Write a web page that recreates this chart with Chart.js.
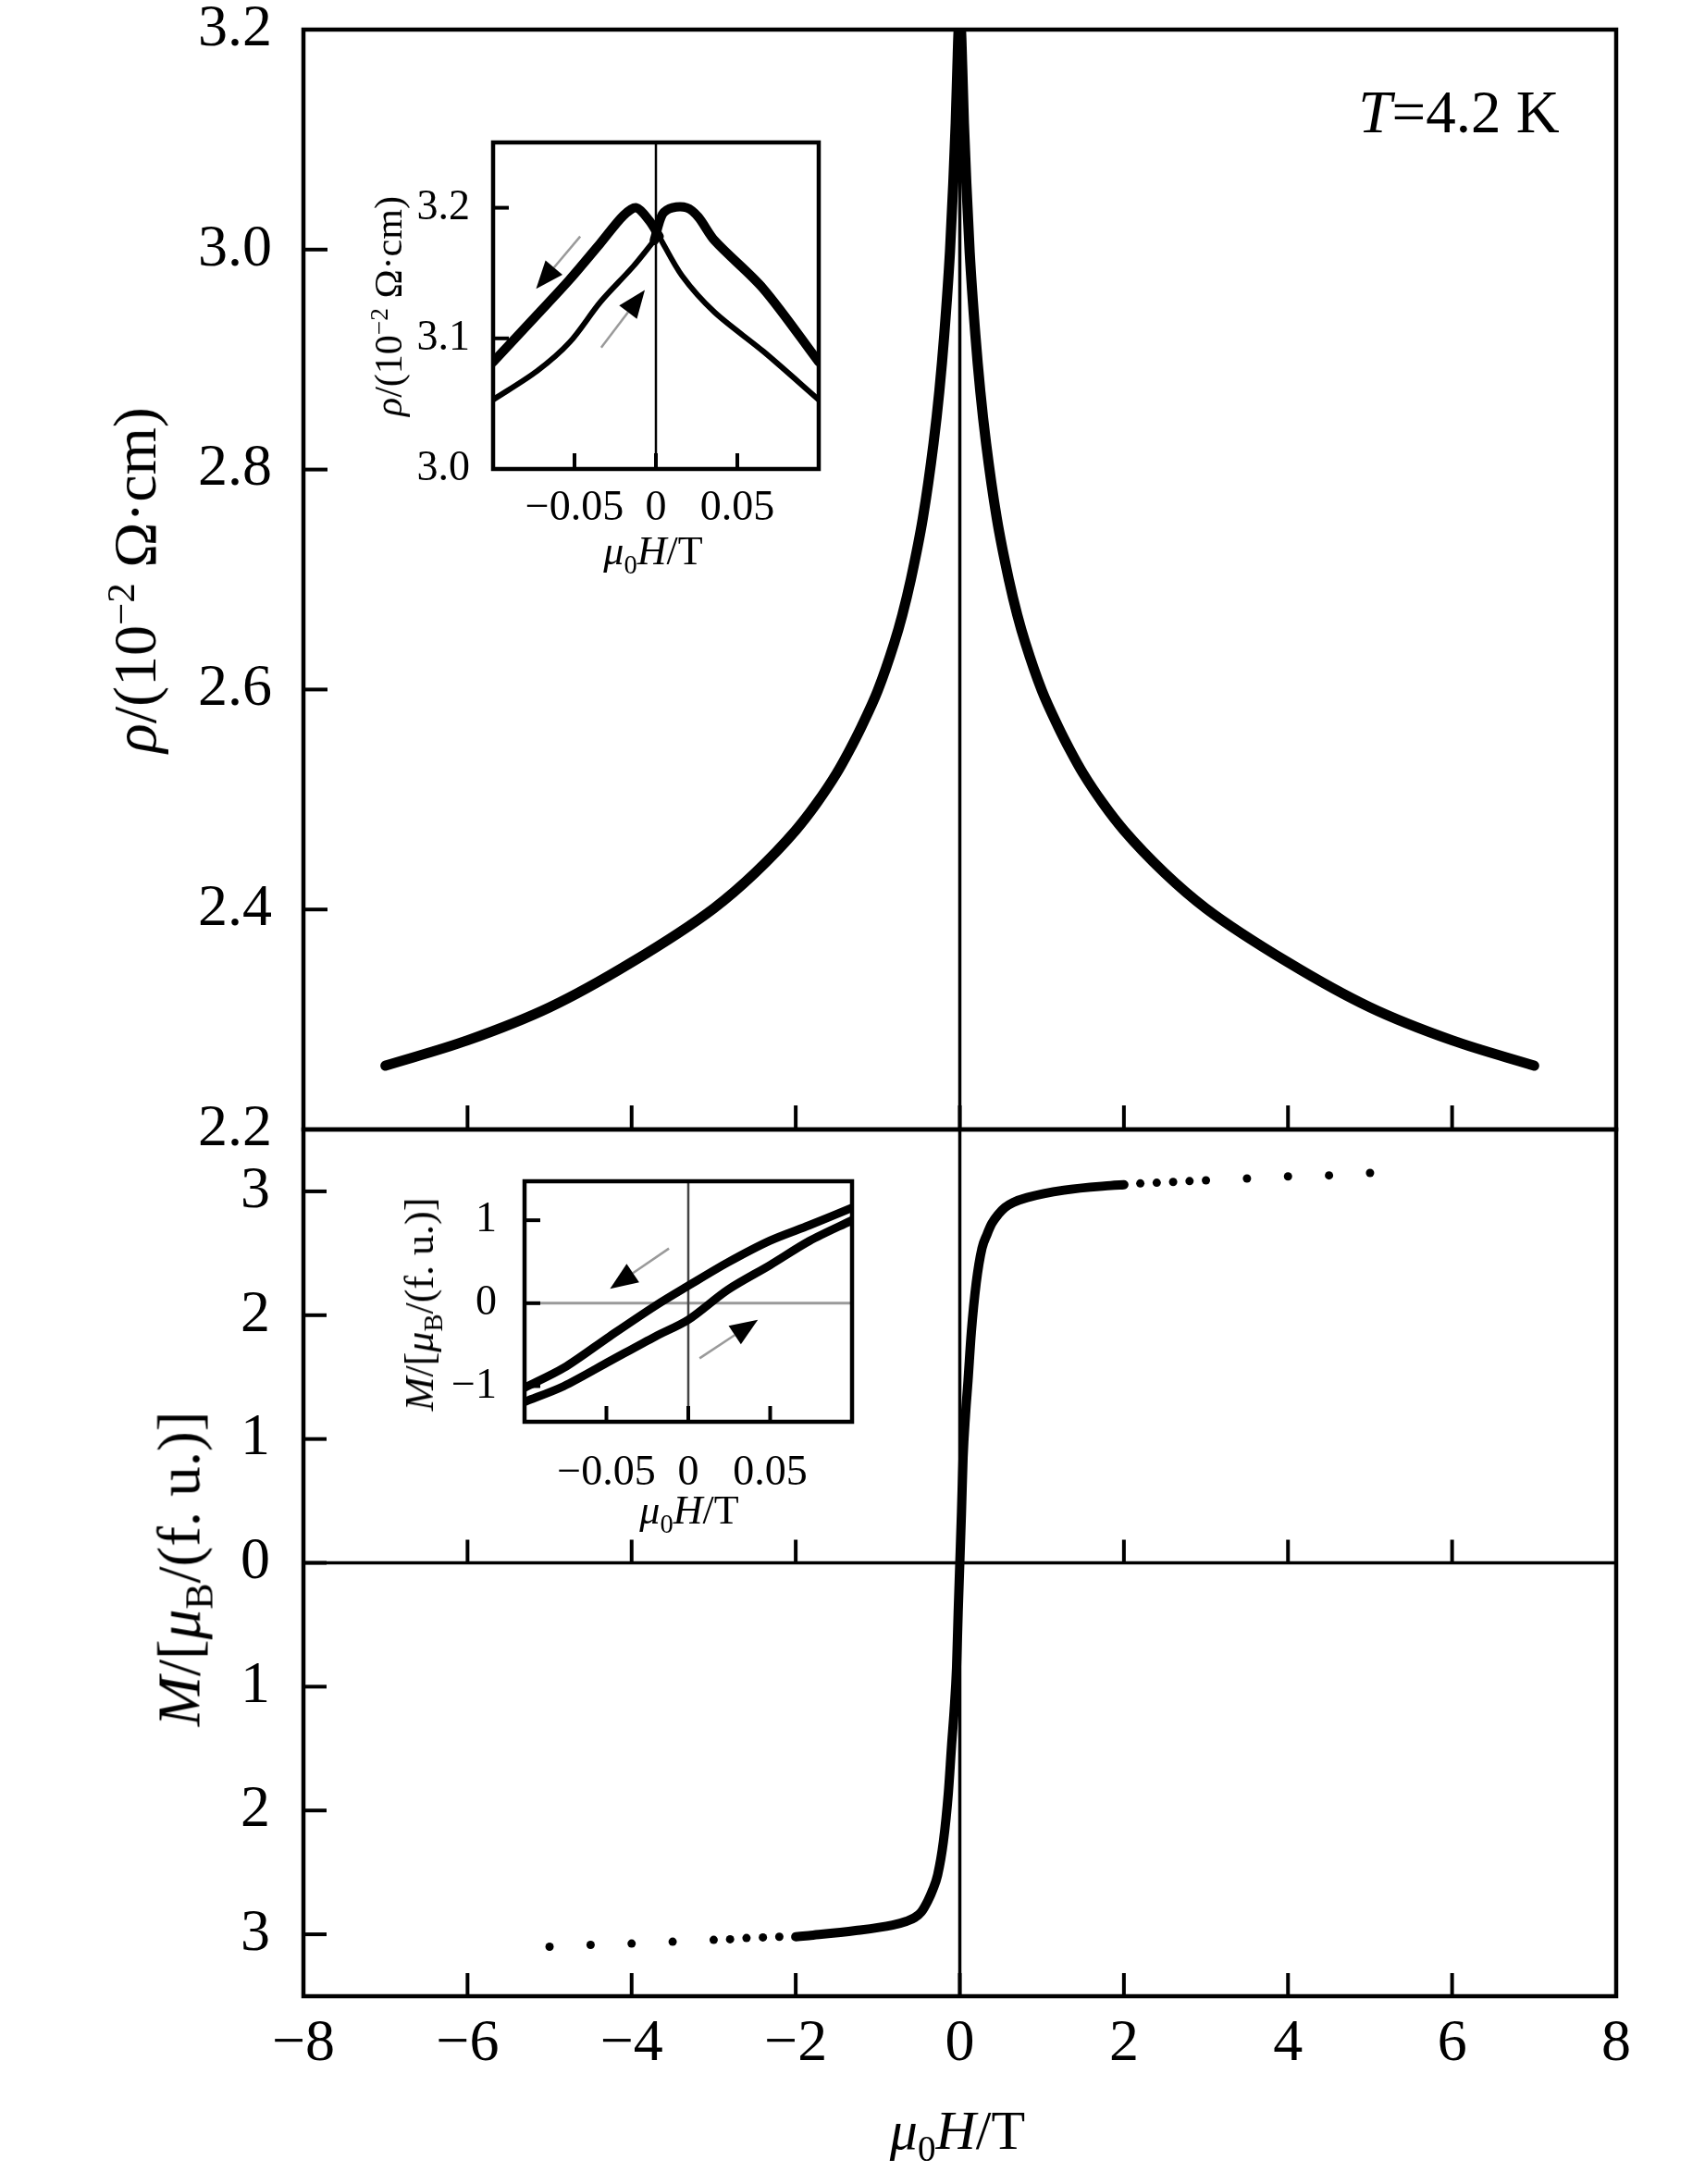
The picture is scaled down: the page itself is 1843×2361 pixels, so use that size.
<!DOCTYPE html>
<html>
<head>
<meta charset="utf-8">
<script src="https://cdn.jsdelivr.net/npm/chart.js@4.4.1/dist/chart.umd.min.js"></script>
<style>
  html, body { margin: 0; padding: 0; background: #fff; }
  body { width: 1843px; height: 2361px; position: relative; overflow: hidden;
         font-family: 'Liberation Serif', 'Times New Roman', serif; color: #000; }
  canvas { position: absolute; }
  .t { position: absolute; white-space: nowrap; line-height: 1; transform: translate(-50%, -50%); }
  .v { transform: translate(-50%, -50%) rotate(-90deg); }
  sub, sup { font-size: 65%; line-height: 0; }
</style>
</head>
<body>
<canvas id="cRho" width="1843" height="1341" style="left:0;top:-40px"></canvas>
<canvas id="cM" width="1843" height="1221" style="left:0;top:1140px"></canvas>
<canvas id="cRhoInset" width="540" height="480" style="left:380px;top:90px"></canvas>
<canvas id="cMInset" width="560" height="440" style="left:400px;top:1220px"></canvas>

<div class="t v" style="left:146px;top:627px;font-size:66px"><i>ρ</i>/(10<sup>−2</sup> Ω·cm)</div>
<div class="t v" style="left:194px;top:1696px;font-size:65px"><i>M</i>/[<i>μ</i><sub>B</sub>/(f. u.)]</div>
<div class="t" style="left:1035px;top:2303px;font-size:60px"><i>μ</i><sub>0</sub><i>H</i>/T</div>
<div class="t" style="left:1577px;top:121px;font-size:65px"><i>T</i>=4.2 K</div>
<div class="t v" style="left:420px;top:331px;font-size:42px"><i>ρ</i>/(10<sup>−2</sup> Ω·cm)</div>
<div class="t" style="left:706px;top:596px;font-size:44px"><i>μ</i><sub>0</sub><i>H</i>/T</div>
<div class="t v" style="left:454px;top:1410px;font-size:44px"><i>M</i>/[<i>μ</i><sub>B</sub>/(f. u.)]</div>
<div class="t" style="left:745px;top:1633px;font-size:44px"><i>μ</i><sub>0</sub><i>H</i>/T</div>

<script>
// ---- data ----
// main panel: resistivity (10^-2 Ohm cm) vs field (T)
const rhoField = [-7, -6, -5, -4, -3, -2.5, -2, -1.75, -1.5, -1.35, -1.2, -1, -0.8, -0.7, -0.6, -0.45, -0.32,
                  -0.25, -0.19, -0.12, -0.08, -0.05, -0.03, -0.012, 0, 0.012, 0.03, 0.05, 0.08, 0.12, 0.19,
                  0.25, 0.32, 0.45, 0.6, 0.7, 0.8, 1, 1.2, 1.35, 1.5, 1.75, 2, 2.5, 3, 4, 5, 6, 7];
const rhoValue = [2.258, 2.281, 2.311, 2.352, 2.401, 2.433, 2.472, 2.496, 2.524, 2.544, 2.566, 2.599, 2.642,
                  2.668, 2.699, 2.756, 2.824, 2.871, 2.922, 2.998, 3.06, 3.115, 3.165, 3.2, 3.19, 3.2, 3.165,
                  3.115, 3.06, 2.998, 2.922, 2.871, 2.824, 2.756, 2.699, 2.668, 2.642, 2.599, 2.566, 2.544,
                  2.524, 2.496, 2.472, 2.433, 2.401, 2.352, 2.311, 2.281, 2.258];

// main panel: magnetisation (muB per f.u.) vs field (T)
const mField = [-2, -1.84, -1.27, -0.82, -0.65, -0.55, -0.47, -0.39, -0.33, -0.27, -0.2, -0.14, -0.1, -0.07,
                -0.04, -0.02, 0, 0.02, 0.04, 0.07, 0.1, 0.14, 0.2, 0.27, 0.33, 0.39, 0.47, 0.55, 0.65, 0.82,
                1.27, 1.84, 2];
const mValue = [-3.02, -3.01, -2.97, -2.925, -2.895, -2.865, -2.82, -2.73, -2.64, -2.52, -2.25, -1.86, -1.47,
                -1.2, -0.85, -0.4, 0, 0.4, 0.85, 1.2, 1.47, 1.86, 2.26, 2.54, 2.65, 2.74, 2.815, 2.87, 2.91,
                2.95, 3.01, 3.047, 3.054];
const mTailField = [-5, -4.5, -4, -3.5, -3, -2.8, -2.6, -2.4, -2.2, 2.2, 2.4, 2.6, 2.8, 3, 3.5, 4, 4.5, 5];
const mTailValue = [-3.10, -3.085, -3.075, -3.06, -3.045, -3.04, -3.03, -3.025, -3.02,
                    3.064, 3.07, 3.076, 3.083, 3.089, 3.104, 3.121, 3.129, 3.149];

// resistivity inset, field sweeping down (+ to -) and up (- to +)
const rhoInDownRightH = [0.1, 0.066, 0.036, 0.016, 0.002];
const rhoInDownRightV = [3.053, 3.090, 3.120, 3.148, 3.178];
const rhoInDownLeftH = [0.002, -0.004, -0.012, -0.02, -0.034, -0.053, -0.073, -0.1];
const rhoInDownLeftV = [3.178, 3.19, 3.2, 3.194, 3.173, 3.145, 3.118, 3.082];
const rhoInUpLeftH = [-0.1, -0.073, -0.053, -0.034, -0.014, -0.001];
const rhoInUpLeftV = [3.053, 3.075, 3.097, 3.128, 3.155, 3.175];
const rhoInUpRightH = [-0.001, 0.004, 0.01, 0.019, 0.026, 0.036, 0.066, 0.1];
const rhoInUpRightV = [3.175, 3.195, 3.2, 3.2, 3.193, 3.175, 3.138, 3.082];

// magnetisation inset loop
const mInDownH = [0.1, 0.074, 0.05, 0.024, 0, -0.02, -0.048, -0.076, -0.1];
const mInDownV = [1.15, 0.94, 0.755, 0.49, 0.21, -0.03, -0.40, -0.78, -1.02];
const mInUpH = [-0.1, -0.076, -0.048, -0.02, 0, 0.024, 0.05, 0.074, 0.1];
const mInUpV = [-1.19, -1.0, -0.70, -0.40, -0.20, 0.16, 0.46, 0.75, 1.0];

// tick values
const fieldTicks = [-8, -6, -4, -2, 0, 2, 4, 6, 8];
const rhoTicks = [2.2, 2.4, 2.6, 2.8, 3.0, 3.2];
const mTicks = [-3, -2, -1, 0, 1, 2, 3];
const insetFieldTicks = [-0.05, 0, 0.05];
const insetRhoTicks = [3.0, 3.1, 3.2];
const insetMTicks = [-1, 0, 1];

// sweep-direction arrows in the insets (data units)
const rhoInsetArrows = [{ from: [-0.0465, 3.178], to: [-0.0736, 3.138] },
                        { from: [-0.0336, 3.093], to: [-0.0068, 3.137] }];
const mInsetArrows = [{ from: [-0.0118, 0.66], to: [-0.0478, 0.174] },
                      { from: [0.0069, -0.665], to: [0.0425, -0.199] }];

// ---- drawing ----
Chart.defaults.font.family = "'Liberation Serif', 'Times New Roman', serif";
Chart.defaults.color = '#000';

function pts(xs, ys) { return xs.map((x, i) => ({ x: x, y: ys[i] })); }
function seg(ctx, x0, y0, x1, y1) { ctx.beginPath(); ctx.moveTo(x0, y0); ctx.lineTo(x1, y1); ctx.stroke(); }
function signed(v) {
  if (Math.abs(v) < 1e-9) return '0';
  const s = String(Math.round(Math.abs(v) * 1000) / 1000);
  return v < 0 ? '\u2212' + s : s;
}
function line(data, width, smooth) {
  const ds = { data: data, showLine: true, borderColor: '#000', borderWidth: width, pointRadius: 0,
               borderCapStyle: 'round', borderJoinStyle: 'round', clip: 0 };
  if (smooth === 'mono') ds.cubicInterpolationMode = 'monotone';
  else if (smooth) ds.tension = smooth;
  return ds;
}

// frame, inward ticks and zero lines
const panelFrame = {
  id: 'panelFrame',
  beforeDraw(chart, args, o) {
    if (!o.fill) return;
    const a = chart.chartArea, ctx = chart.ctx;
    ctx.save(); ctx.fillStyle = o.fill; ctx.fillRect(a.left, a.top, a.width, a.height); ctx.restore();
  },
  beforeDatasetsDraw(chart, args, o) {
    const { ctx, chartArea: a, scales: { x, y } } = chart;
    ctx.save();
    if (o.zeroY) {
      const py = y.getPixelForValue(0);
      ctx.strokeStyle = o.zeroY.color; ctx.lineWidth = o.zeroY.width;
      seg(ctx, a.left, py, a.right, py);
    }
    if (o.zeroX) {
      const px = x.getPixelForValue(0);
      ctx.strokeStyle = o.zeroX.color; ctx.lineWidth = o.zeroX.width;
      seg(ctx, px, a.top, px, a.bottom);
    }
    ctx.restore();
  },
  afterDatasetsDraw(chart, args, o) {
    const { ctx, chartArea: a, scales: { x, y } } = chart;
    ctx.save();
    ctx.strokeStyle = '#000'; ctx.lineWidth = o.tickWidth; ctx.lineCap = 'butt';
    (o.yTicks || []).forEach(v => {
      const py = y.getPixelForValue(v);
      if (py > a.top + 3 && py < a.bottom - 3) seg(ctx, a.left, py, a.left + o.tickLen, py);
    });
    const rows = [a.bottom];
    if (o.xTicksOnZero) rows.push(y.getPixelForValue(0));
    (o.xTicks || []).forEach(v => {
      const px = x.getPixelForValue(v);
      if (px > a.left + 3 && px < a.right - 3) rows.forEach(r => seg(ctx, px, r, px, r - o.tickLen));
    });
    ctx.lineWidth = o.frameWidth;
    ctx.strokeRect(a.left, a.top, a.width, a.height);
    ctx.restore();
  }
};

const sweepArrows = {
  id: 'sweepArrows',
  afterDatasetsDraw(chart, args, o) {
    const { ctx, scales: { x, y } } = chart;
    (o.list || []).forEach(ar => {
      const x0 = x.getPixelForValue(ar.from[0]), y0 = y.getPixelForValue(ar.from[1]);
      const x1 = x.getPixelForValue(ar.to[0]), y1 = y.getPixelForValue(ar.to[1]);
      const ang = Math.atan2(y1 - y0, x1 - x0);
      const bx = x1 - o.head * Math.cos(ang), by = y1 - o.head * Math.sin(ang);
      ctx.save();
      ctx.strokeStyle = '#9a9a9a'; ctx.lineWidth = 2.5;
      seg(ctx, x0, y0, bx, by);
      ctx.fillStyle = '#000';
      ctx.beginPath();
      ctx.moveTo(x1, y1);
      ctx.lineTo(bx + o.half * Math.sin(ang), by - o.half * Math.cos(ang));
      ctx.lineTo(bx - o.half * Math.sin(ang), by + o.half * Math.cos(ang));
      ctx.closePath(); ctx.fill();
      ctx.restore();
    });
  }
};

function setTicks(values) { return s => { s.ticks = values.map(v => ({ value: v })); }; }

const base = { responsive: false, animation: false, devicePixelRatio: 1 };
const noGrid = { display: false };
const noBorder = { display: false };

// upper main panel: rho(H)
new Chart(document.getElementById('cRho'), {
  type: 'scatter',
  data: { datasets: [line(pts(rhoField, rhoValue), 11, 'mono')] },
  options: Object.assign({}, base, {
    layout: { padding: { left: 0, top: 72, right: 96, bottom: 80 } },
    plugins: {
      legend: { display: false }, tooltip: { enabled: false },
      panelFrame: { xTicks: fieldTicks, yTicks: rhoTicks, tickLen: 26, tickWidth: 4, frameWidth: 4.5,
                    zeroX: { color: '#000', width: 3.5 } }
    },
    scales: {
      x: { type: 'linear', min: -8, max: 8, display: false },
      y: { type: 'linear', min: 2.2, max: 3.2, grid: noGrid, border: noBorder,
           afterFit(s) { s.width = 328; }, afterBuildTicks: setTicks(rhoTicks),
           ticks: { font: { size: 64 }, padding: 26, callback: v => v.toFixed(1) } }
    }
  }),
  plugins: [panelFrame]
});

// lower main panel: M(H)
new Chart(document.getElementById('cM'), {
  type: 'scatter',
  data: { datasets: [
    line(pts(mField, mValue), 10, 'mono'),
    { data: pts(mTailField, mTailValue), pointRadius: 4.5, pointStyle: 'circle', backgroundColor: '#000',
      borderWidth: 0, showLine: false, clip: 0 }
  ] },
  options: Object.assign({}, base, {
    layout: { padding: { left: 0, top: 81, right: 96, bottom: 0 } },
    plugins: {
      legend: { display: false }, tooltip: { enabled: false },
      panelFrame: { xTicks: fieldTicks, yTicks: mTicks, xTicksOnZero: true, tickLen: 25, tickWidth: 4,
                    frameWidth: 4.5, zeroX: { color: '#000', width: 3.5 }, zeroY: { color: '#000', width: 3.5 } }
    },
    scales: {
      x: { type: 'linear', min: -8, max: 8, grid: noGrid, border: noBorder,
           afterFit(s) { s.height = 203; }, afterBuildTicks: setTicks(fieldTicks),
           ticks: { font: { size: 64 }, padding: 6, maxRotation: 0, callback: signed } },
      y: { type: 'linear', min: -3.5, max: 3.5, grid: noGrid, border: noBorder,
           afterFit(s) { s.width = 328; }, afterBuildTicks: setTicks(mTicks),
           ticks: { font: { size: 64 }, padding: 28, callback: v => String(Math.abs(v)) } }
    }
  }),
  plugins: [panelFrame]
});

// inset: rho near zero field
new Chart(document.getElementById('cRhoInset'), {
  type: 'scatter',
  data: { datasets: [
    line(pts(rhoInDownRightH, rhoInDownRightV), 6, 0.3),
    line(pts(rhoInDownLeftH, rhoInDownLeftV), 10, 0.3),
    line(pts(rhoInUpLeftH, rhoInUpLeftV), 6, 0.3),
    line(pts(rhoInUpRightH, rhoInUpRightV), 10, 0.3)
  ] },
  options: Object.assign({}, base, {
    layout: { padding: { left: 0, top: 64, right: 35, bottom: 0 } },
    plugins: {
      legend: { display: false }, tooltip: { enabled: false },
      panelFrame: { fill: '#fff', xTicks: insetFieldTicks, yTicks: insetRhoTicks, tickLen: 17, tickWidth: 4,
                    frameWidth: 4.5, zeroX: { color: '#000', width: 2.5 } },
      sweepArrows: { list: rhoInsetArrows, head: 30, half: 12 }
    },
    scales: {
      x: { type: 'linear', min: -0.1, max: 0.1, grid: noGrid, border: noBorder,
           afterFit(s) { s.height = 63; }, afterBuildTicks: setTicks(insetFieldTicks),
           ticks: { font: { size: 46 }, padding: 7, maxRotation: 0, callback: signed } },
      y: { type: 'linear', min: 3.0, max: 3.25, grid: noGrid, border: noBorder,
           afterFit(s) { s.width = 153; }, afterBuildTicks: setTicks(insetRhoTicks),
           ticks: { font: { size: 46 }, padding: 17, callback: v => v.toFixed(1) } }
    }
  }),
  plugins: [panelFrame, sweepArrows]
});

// inset: M hysteresis loop near zero field
new Chart(document.getElementById('cMInset'), {
  type: 'scatter',
  data: { datasets: [
    line(pts(mInDownH, mInDownV), 9, 0.3),
    line(pts(mInUpH, mInUpV), 9, 0.3)
  ] },
  options: Object.assign({}, base, {
    layout: { padding: { left: 0, top: 57, right: 39, bottom: 0 } },
    plugins: {
      legend: { display: false }, tooltip: { enabled: false },
      panelFrame: { fill: '#fff', xTicks: insetFieldTicks, yTicks: insetMTicks, tickLen: 17, tickWidth: 4,
                    frameWidth: 4.5, zeroX: { color: '#444', width: 2.5 }, zeroY: { color: '#9a9a9a', width: 3 } },
      sweepArrows: { list: mInsetArrows, head: 30, half: 12 }
    },
    scales: {
      x: { type: 'linear', min: -0.1, max: 0.1, grid: noGrid, border: noBorder,
           afterFit(s) { s.height = 123; }, afterBuildTicks: setTicks(insetFieldTicks),
           ticks: { font: { size: 46 }, padding: 20, maxRotation: 0, callback: signed } },
      y: { type: 'linear', min: -1.43, max: 1.47, grid: noGrid, border: noBorder,
           afterFit(s) { s.width = 167; }, afterBuildTicks: setTicks(insetMTicks),
           ticks: { font: { size: 46 }, padding: 22, callback: signed } }
    }
  }),
  plugins: [panelFrame, sweepArrows]
});
</script>
</body>
</html>
